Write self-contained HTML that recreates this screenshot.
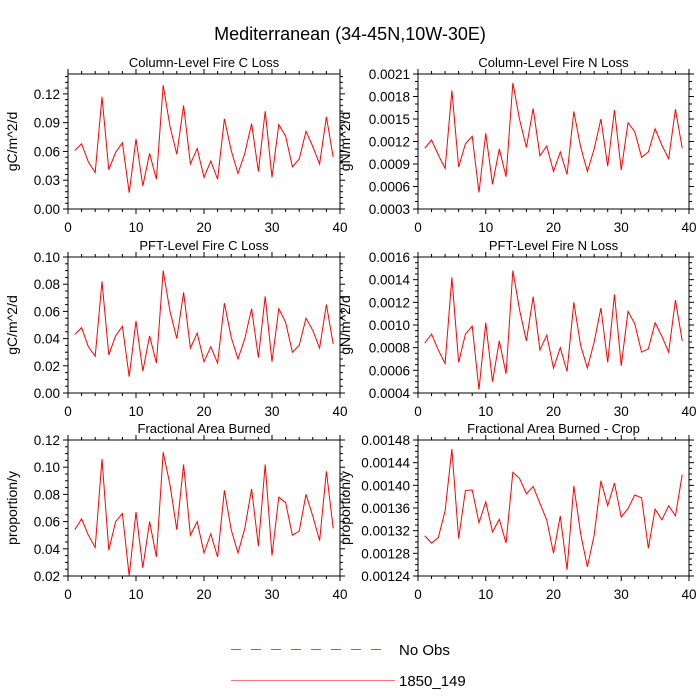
<!DOCTYPE html>
<html><head><meta charset="utf-8"><style>
body{margin:0;background:#fff}
svg{display:block;font-family:"Liberation Sans",sans-serif}
</style></head><body>
<svg id="chart" width="700" height="700">
<text x="350" y="40" font-size="18" text-anchor="middle">Mediterranean (34-45N,10W-30E)</text>
<g>
<line x1="231" y1="649.5" x2="389" y2="649.5" stroke="#6666ee" stroke-width="1" stroke-dasharray="10,10"/>
<text x="399" y="655" font-size="15">No Obs</text>
<line x1="231" y1="680.5" x2="395" y2="680.5" stroke="#ff7777" stroke-width="1"/>
<text x="399" y="686" font-size="15">1850_149</text>
</g>
</svg>
<script>
const years = Array.from({length:39},(_,i)=>i+1);
const xTicks = [0,10,20,30,40];
const colC = [0.061,0.068,0.049,0.038,0.117,0.041,0.059,0.069,0.017,0.073,0.024,0.058,0.031,0.129,0.086,0.057,0.108,0.047,0.063,0.033,0.050,0.031,0.094,0.061,0.037,0.058,0.089,0.039,0.102,0.033,0.088,0.076,0.044,0.052,0.081,0.065,0.047,0.096,0.054];
const colN = [0.00111,0.00122,0.00102,0.00084,0.00188,0.00086,0.00117,0.00127,0.00052,0.00131,0.00063,0.00110,0.00073,0.00198,0.00149,0.00112,0.00164,0.00101,0.00114,0.00080,0.00106,0.00076,0.00160,0.00113,0.00080,0.00110,0.00150,0.00087,0.00162,0.00082,0.00145,0.00133,0.00099,0.00106,0.00137,0.00115,0.00097,0.00163,0.00111];
const pftC = [0.043,0.048,0.034,0.027,0.082,0.028,0.042,0.049,0.012,0.053,0.016,0.042,0.022,0.090,0.060,0.040,0.074,0.033,0.044,0.023,0.034,0.022,0.066,0.041,0.025,0.040,0.062,0.026,0.071,0.023,0.062,0.052,0.030,0.035,0.055,0.046,0.033,0.065,0.036];
const pftN = [0.00084,0.00092,0.00078,0.00066,0.00142,0.00067,0.00092,0.00099,0.00043,0.00102,0.00050,0.00086,0.00057,0.00148,0.00113,0.00086,0.00125,0.00078,0.00091,0.00062,0.00080,0.00059,0.00120,0.00082,0.00062,0.00085,0.00115,0.00067,0.00127,0.00064,0.00112,0.00101,0.00076,0.00079,0.00102,0.00090,0.00076,0.00122,0.00086];
const fab = [0.054,0.062,0.050,0.041,0.106,0.039,0.060,0.066,0.020,0.067,0.026,0.060,0.034,0.111,0.087,0.054,0.102,0.050,0.060,0.037,0.051,0.034,0.083,0.054,0.037,0.055,0.084,0.042,0.102,0.035,0.078,0.074,0.050,0.053,0.080,0.064,0.046,0.097,0.055];
const fabCrop = [0.001311,0.001298,0.001308,0.001355,0.001464,0.001306,0.001391,0.001392,0.001334,0.001371,0.001318,0.001340,0.001298,0.001423,0.001412,0.001385,0.001398,0.001368,0.001339,0.001280,0.001346,0.001251,0.001399,0.001315,0.001256,0.001312,0.001408,0.001364,0.001404,0.001344,0.001359,0.001383,0.001378,0.001289,0.001358,0.001339,0.001364,0.001346,0.001419];
const ticksColC = ["0.00","0.03","0.06","0.09","0.12"];
const ticksColN = ["0.0003","0.0006","0.0009","0.0012","0.0015","0.0018","0.0021"];
const ticksPftC = ["0.00","0.02","0.04","0.06","0.08","0.10"];
const ticksPftN = ["0.0004","0.0006","0.0008","0.0010","0.0012","0.0014","0.0016"];
const ticksFab = ["0.02","0.04","0.06","0.08","0.10","0.12"];
const ticksCrop = ["0.00124","0.00128","0.00132","0.00136","0.00140","0.00144","0.00148"];

const svg = document.getElementById('chart');
const NS = 'http://www.w3.org/2000/svg';
function mk(tag, attrs, parent){const e=document.createElementNS(NS,tag);for(const k in attrs)e.setAttribute(k,attrs[k]);parent.appendChild(e);return e;}

function panel(id, title, ylabel, L, R, T, B, ymin, ymax, tickVals, tickLabels, minorPer, data, ylx){
  const g = mk('g',{},svg);
  
  
  const xs = v => L + (v-0)/(40-0)*(R-L);
  const ys = v => B - (v-ymin)/(ymax-ymin)*(B-T);
  const frame = mk('rect',{x:L,y:T,width:R-L,height:B-T,fill:'none',stroke:'#000','stroke-width':1},g);
  
  
  xTicks.forEach(t=>{
    const x=xs(t);
    mk('line',{x1:x,y1:B,x2:x,y2:B+5,stroke:'#000'},g);
    mk('line',{x1:x,y1:T,x2:x,y2:T-5,stroke:'#000'},g);
    const tl = mk('text',{x:x,y:B+23,'font-size':13.5,'text-anchor':'middle'},g);
    tl.textContent = t;
    
    
  });
  for(let t=2;t<40;t+=2){ if(t%10===0) continue; const x=xs(t);
    mk('line',{x1:x,y1:B,x2:x,y2:B+3,stroke:'#000'},g);
    mk('line',{x1:x,y1:T,x2:x,y2:T-3,stroke:'#000'},g);}
  tickVals.forEach((v,i)=>{
    const y=ys(v);
    mk('line',{x1:L,y1:y,x2:L-5,y2:y,stroke:'#000'},g);
    mk('line',{x1:R,y1:y,x2:R+5,y2:y,stroke:'#000'},g);
    const tl = mk('text',{x:L-8,y:y+5,'font-size':13.5,'text-anchor':'end'},g);
    tl.textContent = tickLabels[i];
    
    
    if(i<tickVals.length-1){
      const step=(tickVals[i+1]-v)/(minorPer+1);
      for(let k=1;k<=minorPer;k++){const yy=ys(v+k*step);
        mk('line',{x1:L,y1:yy,x2:L-3,y2:yy,stroke:'#000'},g);
        mk('line',{x1:R,y1:yy,x2:R+3,y2:yy,stroke:'#000'},g);}
    }
  });
  const last=tickVals[tickVals.length-1], step=(tickVals[1]-tickVals[0])/(minorPer+1);
  for(let v=last+step; v<=ymax+1e-12; v+=step){const yy=ys(v);
    mk('line',{x1:L,y1:yy,x2:L-3,y2:yy,stroke:'#000'},g);
    mk('line',{x1:R,y1:yy,x2:R+3,y2:yy,stroke:'#000'},g);}
  const tt = mk('text',{x:(L+R)/2,y:T-7,'font-size':13,'text-anchor':'middle'},g);
  tt.textContent = title;
  
  
  const yl = mk('text',{x:ylx,y:(T+B)/2,'font-size':14,'text-anchor':'middle',transform:`rotate(-90 ${ylx} ${(T+B)/2})`},g);
  yl.textContent = ylabel;
  
  
  const pts = data.map((v,i)=>xs(years[i]).toFixed(2)+','+ys(v).toFixed(2)).join(' ');
  const line = mk('polyline',{points:pts,fill:'none',stroke:'#ff0000','stroke-width':1},g);
  
  
}
function nums(a){return a.map(Number);}
const LL=68, LR=340, RL=418, RR=689;
panel('column-c','Column-Level Fire C Loss','gC/m^2/d',LL,LR,74,209,0,0.1407,nums(ticksColC),ticksColC,4,colC,17);
panel('column-n','Column-Level Fire N Loss','gN/m^2/d',RL,RR,74,209,0.0003,0.0021,nums(ticksColN),ticksColN,2,colN,350);
panel('pft-c','PFT-Level Fire C Loss','gC/m^2/d',LL,LR,257,393,0,0.10,nums(ticksPftC),ticksPftC,3,pftC,17);
panel('pft-n','PFT-Level Fire N Loss','gN/m^2/d',RL,RR,257,393,0.0004,0.0016,nums(ticksPftN),ticksPftN,3,pftN,350);
panel('fab','Fractional Area Burned','proportion/y',LL,LR,440,576,0.02,0.12,nums(ticksFab),ticksFab,3,fab,17);
panel('fab-crop','Fractional Area Burned - Crop','proportion/y',RL,RR,440,576,0.00124,0.00148,nums(ticksCrop),ticksCrop,3,fabCrop,350);
</script>
</body></html>
